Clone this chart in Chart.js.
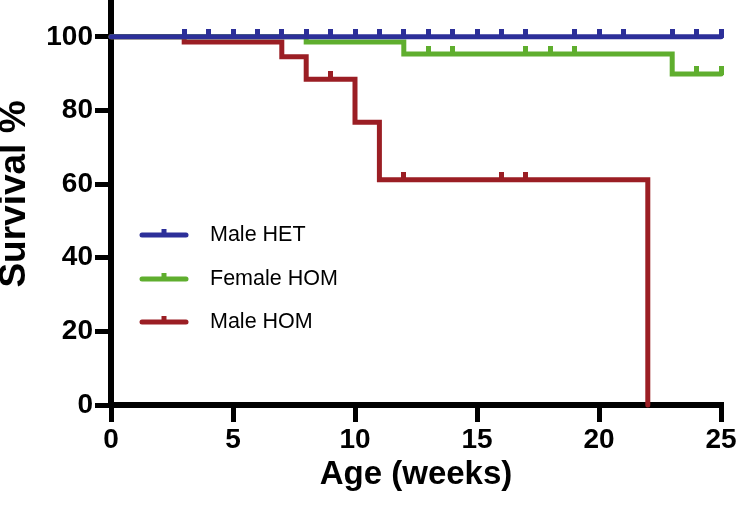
<!DOCTYPE html>
<html><head><meta charset="utf-8">
<script src="https://cdn.jsdelivr.net/npm/chart.js@4/dist/chart.umd.min.js"></script>
<style>html,body{margin:0;padding:0;background:#fff;overflow:hidden;}</style>
</head><body>
<canvas id="c" width="738" height="507"></canvas>
<script>
// ---- data ----
const xTicks = [0, 5, 10, 15, 20, 25];
const yTicks = [0, 20, 40, 60, 80, 100];
const seriesLabels = ['Male HET', 'Female HOM', 'Male HOM'];
const xTitle = 'Age (weeks)';
const yTitle = 'Survival %';

const maleHetWeeks = [0, 25];
const maleHetSurvival = [100, 100];
const maleHetCensored = [3, 4, 5, 6, 7, 8, 9, 10, 11, 12, 13, 14, 15, 16, 17, 19, 20, 21, 23, 24, 25];

const femaleHomWeeks = [0, 8, 12, 23, 25];
const femaleHomSurvival = [100, 98.6, 95.3, 89.9, 89.9];
const femaleHomCensored = [13, 14, 17, 18, 19, 24, 25];

const maleHomWeeks = [0, 3, 7, 8, 10, 11, 22];
const maleHomSurvival = [100, 98.6, 94.6, 88.5, 76.8, 61.2, 0];
const maleHomCensored = [9, 12, 16, 17];

const colors = ['#2C2F99', '#5FAE2E', '#9B1E24'];

// ---- helpers ----
const series = [
  { weeks: maleHetWeeks, surv: maleHetSurvival, cens: maleHetCensored },
  { weeks: femaleHomWeeks, surv: femaleHomSurvival, cens: femaleHomCensored },
  { weeks: maleHomWeeks, surv: maleHomSurvival, cens: maleHomCensored }
];
function survAt(s, t) {
  let v = s.surv[0];
  for (let i = 0; i < s.weeks.length; i++) if (s.weeks[i] <= t) v = s.surv[i];
  return v;
}
function censorMark(color) {
  const c = document.createElement('canvas');
  c.width = 5; c.height = 16;
  const g = c.getContext('2d');
  g.fillStyle = color;
  g.fillRect(0, 0, 5, 9);
  return c;
}

const datasets = [];
series.forEach((s, i) => {
  datasets.push({
    type: 'line', label: seriesLabels[i],
    data: s.weeks.map((w, k) => ({ x: w, y: s.surv[k] })),
    borderColor: colors[i], backgroundColor: colors[i], borderWidth: 5,
    stepped: 'before', pointRadius: 0, fill: false, clip: false,
    borderCapStyle: 'round', borderJoinStyle: 'miter', order: i
  });
  datasets.push({
    type: 'scatter', label: seriesLabels[i] + ' censored',
    data: s.cens.map(t => ({ x: t, y: survAt(s, t) })),
    pointStyle: censorMark(colors[i]), pointRadius: 3, showLine: false,
    clip: false, order: i
  });
});

const kmLegend = {
  id: 'kmLegend',
  afterDatasetsDraw(chart) {
    const ctx = chart.ctx;
    const ys = [235, 279, 322];
    ctx.save();
    seriesLabels.forEach((lab, i) => {
      const y = ys[i];
      ctx.strokeStyle = colors[i];
      ctx.lineWidth = 5;
      ctx.lineCap = 'round';
      ctx.beginPath(); ctx.moveTo(142, y); ctx.lineTo(186, y); ctx.stroke();
      ctx.fillStyle = colors[i];
      ctx.fillRect(161.5, y - 6, 5, 6);
      ctx.fillStyle = '#000';
      ctx.font = "21.5px 'Liberation Sans', Arial, sans-serif";
      ctx.textBaseline = 'middle';
      ctx.textAlign = 'left';
      ctx.fillText(lab, 210, y);
    });
    ctx.restore();
  }
};

// y-axis title, drawn next to the y scale
const yAxisTitle = {
  id: 'yAxisTitle',
  afterDraw(chart) {
    const ctx = chart.ctx;
    ctx.save();
    ctx.translate(15, 194);
    ctx.rotate(-Math.PI / 2);
    ctx.fillStyle = '#000';
    ctx.font = "bold 37px 'Liberation Sans', Arial, sans-serif";
    ctx.textAlign = 'center';
    ctx.textBaseline = 'middle';
    ctx.fillText(yTitle, 0, 0);
    ctx.restore();
  }
};

Chart.defaults.font.family = "'Liberation Sans', Arial, Helvetica, sans-serif";
Chart.defaults.color = '#000';

new Chart(document.getElementById('c'), {
  type: 'scatter',
  data: { datasets },
  plugins: [kmLegend, yAxisTitle],
  options: {
    responsive: false, animation: false, devicePixelRatio: 1,
    layout: { autoPadding: false, padding: { left: 0, right: 17, top: 0, bottom: 0 } },
    plugins: { legend: { display: false }, tooltip: { enabled: false } },
    scales: {
      x: {
        type: 'linear', min: 0, max: 25,
        afterBuildTicks: a => { a.ticks = xTicks.map(v => ({ value: v })); },
        afterFit: s => { s.height = 102; s.paddingLeft = 0; s.paddingRight = 0; },
        ticks: { font: { size: 28, weight: 'bold' }, color: '#000', padding: 1, maxRotation: 0, autoSkip: false },
        grid: { drawOnChartArea: false, drawTicks: true, tickLength: 17, lineWidth: 5, tickWidth: 5, tickColor: '#000', color: '#000' },
        border: { display: true, color: '#000', width: 6 },
        title: { display: true, text: xTitle, color: '#000', font: { size: 33, weight: 'bold', lineHeight: 1 }, padding: { top: 0, bottom: 16 } }
      },
      y: {
        type: 'linear', min: 0, max: 110,
        afterBuildTicks: a => { a.ticks = yTicks.map(v => ({ value: v })); },
        afterFit: s => { s.width = 111; s.paddingTop = 0; s.paddingBottom = 0; },
        ticks: { font: { size: 28, weight: 'bold' }, color: '#000', padding: 2, autoSkip: false },
        grid: { drawOnChartArea: false, drawTicks: true, tickLength: 16, lineWidth: 5, tickWidth: 5, tickColor: '#000', color: '#000' },
        border: { display: true, color: '#000', width: 6 },
        title: { display: false, text: yTitle }
      }
    }
  }
});
</script>
</body></html>
